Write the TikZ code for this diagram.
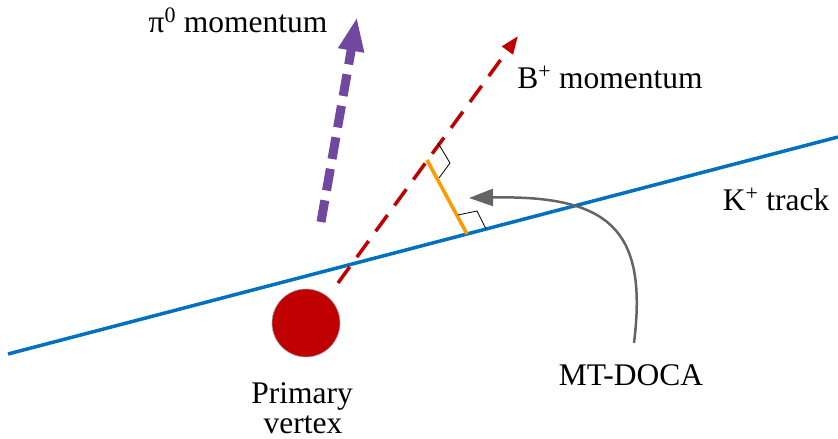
\documentclass[tikz,border=0pt]{standalone}
\usepackage{fontspec}
\setmainfont{Liberation Serif}
\usetikzlibrary{arrows.meta}
\definecolor{kblue}{RGB}{0,112,192}
\definecolor{bred}{RGB}{192,0,0}
\definecolor{ppurple}{RGB}{112,72,160}
\definecolor{dorange}{RGB}{255,153,0}
\definecolor{agray}{RGB}{100,100,100}
\begin{document}
\begin{tikzpicture}[x=1pt,y=-1pt,
  lbl/.style={inner sep=0pt,font=\fontsize{31.5}{36}\selectfont},
  track/.style={kblue,line width=3.5pt},
  bmom/.style={bred,line width=3.5pt,dash pattern=on 20pt off 12pt,-{Triangle[length=18pt,width=13pt]}},
  pimom/.style={ppurple,line width=9pt,dash pattern=on 22pt off 10pt,-{Triangle[length=34pt,width=24pt]}},
  doca/.style={dorange,line width=3.5pt},
  rangle/.style={black,line width=0.8pt},
  pointer/.style={agray,line width=2.5pt,-{Triangle[length=24pt,width=17pt]}}]
\useasboundingbox (0,0) rectangle (838,439);
% K+ track
\coordinate (k1) at (8,354);
\coordinate (k2) at (838,137);
\draw[track] (k1) -- (k2);
% pi0 momentum
\coordinate (p1) at (321,222);
\coordinate (p2) at (357,17);
\draw[pimom] (p1) -- (p2);
% B+ momentum
\coordinate (b1) at (338,283);
\coordinate (b2) at (518,36);
\draw[bmom] (b1) -- (b2);
% MT-DOCA segment
\coordinate (o1) at (427,160);
\coordinate (o2) at (467,234);
\draw[doca] (o1) -- (o2);
% right angle marks
\coordinate (r1) at (438,143);
\coordinate (r2) at (450,163);
\coordinate (r3) at (439,178);
\draw[rangle] (r1) -- (r2) -- (r3);
\coordinate (s1) at (458,215);
\coordinate (s2) at (477,211);
\coordinate (s3) at (486,229);
\draw[rangle] (s1) -- (s2) -- (s3);
% primary vertex
\node[circle,fill=bred,draw=gray!70,line width=0.6pt,minimum size=68pt,inner sep=0pt] (pv) at (306,323) {};
% labels
\node[lbl,anchor=base] (pilbl) at (238,32) {π\textsuperscript{0} momentum};
\node[lbl,anchor=base] (blbl) at (610,88) {B\textsuperscript{+} momentum};
\node[lbl,anchor=base] (klbl) at (776,210) {K\textsuperscript{+} track};
\node[lbl,anchor=base] (mlbl) at (631,385) {MT-DOCA};
\node[lbl,anchor=base] (pvlbl1) at (302,403) {Primary};
\node[lbl,anchor=base,text depth=0pt] (pvlbl2) at (303,433) {vertex};
% pointer
\coordinate (mstart) at (634,343);
\coordinate (mtip) at (469,198);
\draw[pointer] (mstart) .. controls (648,230) and (610,195) .. (mtip);
\end{tikzpicture}
\end{document}
